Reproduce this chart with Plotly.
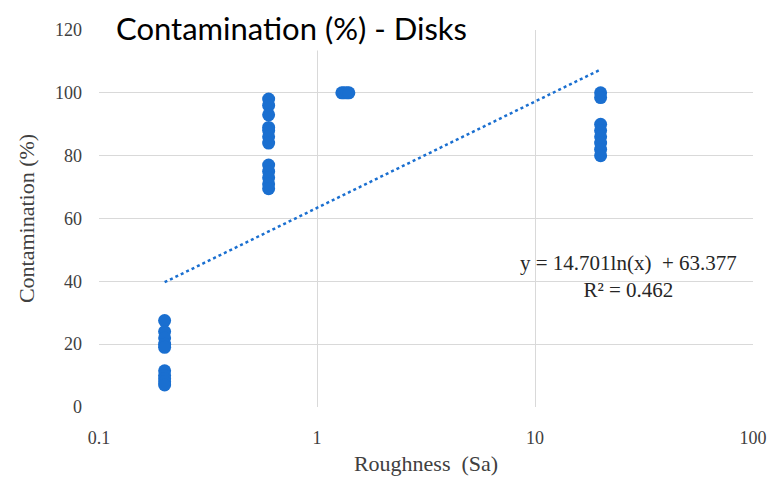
import numpy as np
import plotly.graph_objects as go

# Measured contamination (%) per roughness level (Sa)
sa_02 = [27.5, 24, 22, 20, 19, 11.5, 10, 9, 8, 7]
sa_06 = [98, 96, 93, 89, 88, 86, 84, 77, 75, 73, 71, 69.5]
sa_13 = [100, 100, 100, 100]
sa_13_x = [1.3, 1.33, 1.37, 1.4]
sa_20 = [100, 98.5, 90, 88, 86, 84, 82, 80]

roughness = [0.2] * len(sa_02) + [0.6] * len(sa_06) + sa_13_x + [20] * len(sa_20)
contamination = sa_02 + sa_06 + sa_13 + sa_20

# Logarithmic trendline coefficients
coef_a = 14.701
coef_b = 63.377
r_squared = 0.462

x_ticks = [0.1, 1, 10, 100]
x_tick_text = ["0.1", "1", "10", "100"]
y_ticks = [0, 20, 40, 60, 80, 100, 120]

blue = "#1a6fd0"
serif = "Liberation Serif"
tick_font = dict(family=serif, size=18, color="#404040")
title_font = dict(family=serif, size=22, color="#404040")

trend_x = np.logspace(np.log10(min(roughness)), np.log10(max(roughness)), 200)
trend_y = coef_a * np.log(trend_x) + coef_b

fig = go.Figure()
fig.add_trace(go.Scatter(
    x=trend_x, y=trend_y, mode="lines",
    line=dict(color=blue, width=2.5, dash="dot"),
    hoverinfo="skip", showlegend=False,
))
fig.add_trace(go.Scatter(
    x=roughness, y=contamination, mode="markers",
    marker=dict(color=blue, size=13, line=dict(width=0)),
    showlegend=False,
))

fig.update_layout(
    width=773, height=479,
    margin=dict(l=99, r=20, t=30, b=72),
    paper_bgcolor="white", plot_bgcolor="white",
    font=dict(family=serif, color="#404040", size=18),
    xaxis=dict(
        type="log", range=[-1, 2], automargin=False,
        tickvals=x_ticks, ticktext=x_tick_text, tickfont=tick_font,
        showgrid=True, gridcolor="#d9d9d9", gridwidth=1,
        zeroline=False, showline=False, ticks="",
        ticklabelstandoff=18,
        title=dict(text="Roughness  (Sa)", font=title_font, standoff=8),
    ),
    yaxis=dict(
        range=[0, 120], tickvals=y_ticks, tickfont=tick_font, automargin=False,
        showgrid=True, gridcolor="#d9d9d9", gridwidth=1,
        zeroline=False, showline=False, ticks="",
        ticklabelstandoff=16,
        title=dict(text="Contamination (%)", font=title_font, standoff=14),
    ),
    annotations=[
        dict(
            text="Contamination (%) - Disks",
            xref="paper", yref="paper", x=0.02, y=1.0,
            xanchor="left", yanchor="middle", yshift=2,
            showarrow=False, bgcolor="white", borderpad=3,
            font=dict(family="Lato", size=31, color="black"),
        ),
        dict(
            text=f"y = {coef_a}ln(x)  + {coef_b}<br>R² = {r_squared}",
            xref="paper", yref="paper", x=0.81, y=0.345,
            xanchor="center", yanchor="middle",
            showarrow=False, align="center",
            font=dict(family=serif, size=21, color="#262626"),
        ),
    ],
)

fig.write_html("out.html")
